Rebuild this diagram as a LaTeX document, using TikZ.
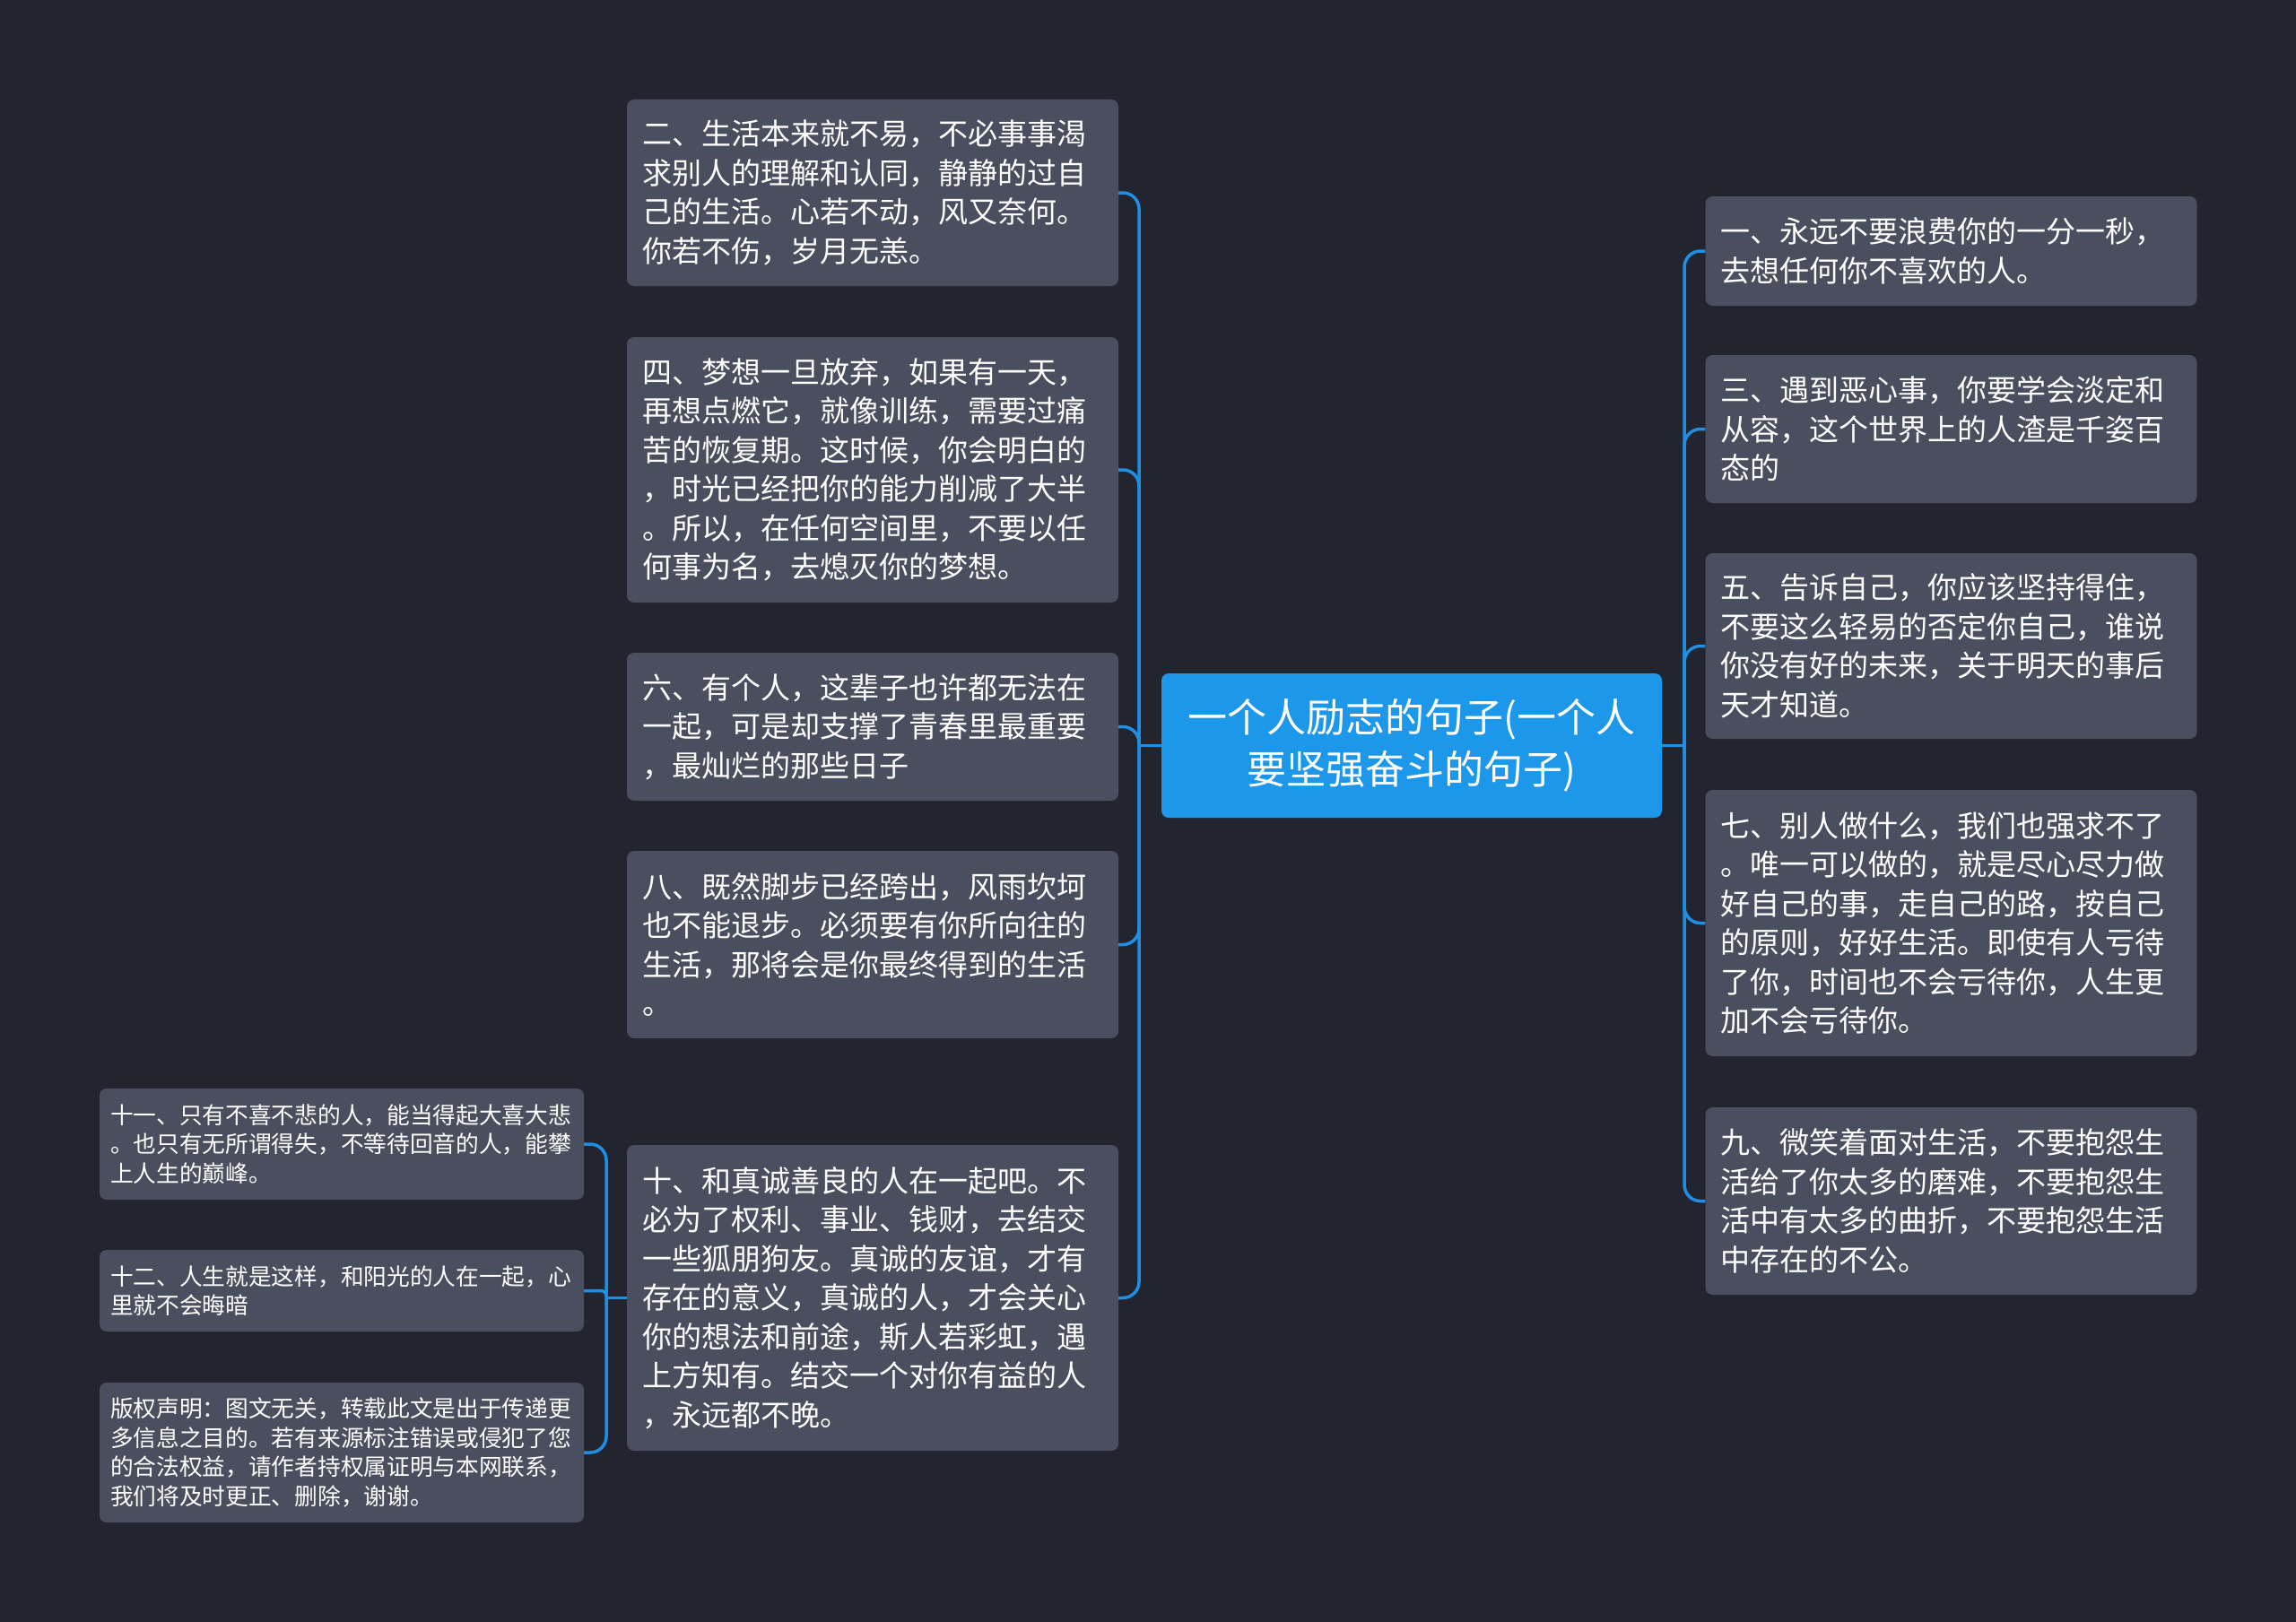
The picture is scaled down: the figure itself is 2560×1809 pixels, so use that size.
\documentclass[tikz,border=0pt]{standalone}
\usepackage{fontspec}
\setmainfont{Noto Sans CJK SC}
\definecolor{bgc}{RGB}{34,37,48}
\definecolor{boxc}{RGB}{73,79,94}
\definecolor{ctrc}{RGB}{28,151,234}
\definecolor{linec}{RGB}{30,143,226}
\begin{document}
\begin{tikzpicture}[x=1pt,y=-1pt,
  mainbox/.style={fill=boxc, rounded corners=8pt, inner xsep=17pt, inner ysep=0pt,
    text=white, align=left, text width=514pt, minimum width=548pt,
    font=\fontsize{33pt}{43.5pt}\selectfont},
  smallbox/.style={fill=boxc, rounded corners=8pt, inner xsep=12pt, inner ysep=0pt,
    text=white, align=left, text width=516pt, minimum width=540pt,
    font=\fontsize{25.7pt}{32.5pt}\selectfont},
  ctrbox/.style={fill=ctrc, rounded corners=8pt, inner xsep=10pt, inner ysep=0pt,
    text=white, align=center, text width=538pt, minimum width=558pt,
    font=\fontsize{44pt}{58pt}\selectfont},
  conn/.style={draw=linec, line width=3.5pt, rounded corners=18pt}]
\fill[bgc] (0,0) rectangle (2560,1809);

% centre
\node[ctrbox, minimum height=161pt] (ctr) at (1574,831.5) {一个人励志的句子(一个人\\要坚强奋斗的句子)};

% left column
\node[mainbox, minimum height=208pt] (b2) at (973,215) {二、生活本来就不易，不必事事渴\\求别人的理解和认同，静静的过自\\己的生活。心若不动，风又奈何。\\你若不伤，岁月无恙。};
\node[mainbox, minimum height=296pt] (b4) at (973,524) {四、梦想一旦放弃，如果有一天，\\再想点燃它，就像训练，需要过痛\\苦的恢复期。这时候，你会明白的\\，时光已经把你的能力削减了大半\\。所以，在任何空间里，不要以任\\何事为名，去熄灭你的梦想。};
\node[mainbox, minimum height=165pt] (b6) at (973,810.5) {六、有个人，这辈子也许都无法在\\一起，可是却支撑了青春里最重要\\，最灿烂的那些日子};
\node[mainbox, minimum height=209pt] (b8) at (973,1053.5) {八、既然脚步已经跨出，风雨坎坷\\也不能退步。必须要有你所向往的\\生活，那将会是你最终得到的生活\\。};
\node[mainbox, minimum height=341pt] (b10) at (973,1447.5) {十、和真诚善良的人在一起吧。不\\必为了权利、事业、钱财，去结交\\一些狐朋狗友。真诚的友谊，才有\\存在的意义，真诚的人，才会关心\\你的想法和前途，斯人若彩虹，遇\\上方知有。结交一个对你有益的人\\，永远都不晚。};

% right column
\node[mainbox, minimum height=122pt] (r1) at (2175.5,280) {一、永远不要浪费你的一分一秒，\\去想任何你不喜欢的人。};
\node[mainbox, minimum height=165pt] (r3) at (2175.5,478.5) {三、遇到恶心事，你要学会淡定和\\从容，这个世界上的人渣是千姿百\\态的};
\node[mainbox, minimum height=207pt] (r5) at (2175.5,720.5) {五、告诉自己，你应该坚持得住，\\不要这么轻易的否定你自己，谁说\\你没有好的未来，关于明天的事后\\天才知道。};
\node[mainbox, minimum height=297pt] (r7) at (2175.5,1029.5) {七、别人做什么，我们也强求不了\\。唯一可以做的，就是尽心尽力做\\好自己的事，走自己的路，按自己\\的原则，好好生活。即使有人亏待\\了你，时间也不会亏待你，人生更\\加不会亏待你。};
\node[mainbox, minimum height=209pt] (r9) at (2175.5,1339.5) {九、微笑着面对生活，不要抱怨生\\活给了你太多的磨难，不要抱怨生\\活中有太多的曲折，不要抱怨生活\\中存在的不公。};

% far-left column
\node[smallbox, minimum height=124pt] (s11) at (381,1276) {十一、只有不喜不悲的人，能当得起大喜大悲\\。也只有无所谓得失，不等待回音的人，能攀\\上人生的巅峰。};
\node[smallbox, minimum height=91pt] (s12) at (381,1439.5) {十二、人生就是这样，和阳光的人在一起，心\\里就不会晦暗};
\node[smallbox, minimum height=156pt] (s13) at (381,1620) {版权声明：图文无关，转载此文是出于传递更\\多信息之目的。若有来源标注错误或侵犯了您\\的合法权益，请作者持权属证明与本网联系，\\我们将及时更正、删除，谢谢。};

% connectors
\coordinate (lt) at (1270,831.5);
\coordinate (rt) at (1878,831.5);
\coordinate (ft) at (676,1447.5);
\draw[conn] (ctr.west) -- (lt);
\draw[conn] (ctr.east) -- (rt);
\foreach \n in {b2,b4,b6,b8,b10} \draw[conn] (lt) |- (\n.east);
\foreach \n in {r1,r3,r5,r7,r9} \draw[conn] (rt) |- (\n.west);
\draw[conn] (b10.west) -- (ft);
\draw[conn] (ft) |- (s11.east);
\draw[conn, rounded corners=6pt] (ft) |- (s12.east);
\draw[conn] (ft) |- (s13.east);
\end{tikzpicture}
\end{document}
